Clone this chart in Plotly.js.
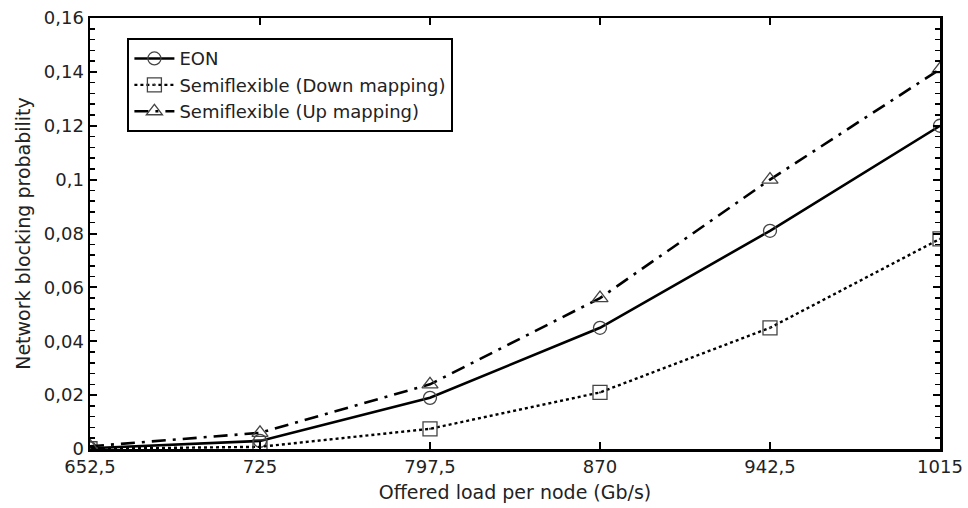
<!DOCTYPE html>
<html>
<head>
<meta charset="utf-8">
<script src="https://cdn.plot.ly/plotly-3.0.1.min.js"></script>
<style>html,body{margin:0;padding:0;background:#fff;}#chart{width:968px;height:508px;}</style>
</head>
<body>
<div id="chart"></div>
<script>
const loads = [652.5, 725, 797.5, 870, 942.5, 1015];
const loadLabels = ["652,5", "725", "797,5", "870", "942,5", "1015"];
const eon = [0.0003, 0.003, 0.019, 0.045, 0.081, 0.120];
const semiDown = [0.0001, 0.0008, 0.0075, 0.021, 0.045, 0.078];
const semiUp = [0.001, 0.006, 0.024, 0.056, 0.100, 0.141];
const yTickVals = [0, 0.02, 0.04, 0.06, 0.08, 0.1, 0.12, 0.14, 0.16];
const yTickLabels = ["0", "0,02", "0,04", "0,06", "0,08", "0,1", "0,12", "0,14", "0,16"];
const seriesNames = ["EON", "Semiflexible (Down mapping)", "Semiflexible (Up mapping)"];

const font = "DejaVu Sans, Verdana, sans-serif";
const traces = [
  {x: loads, y: eon, name: seriesNames[0], mode: "lines+markers",
   line: {color: "#000", width: 2.6, dash: "solid"},
   marker: {symbol: "circle-open", size: 13, color: "#444", line: {width: 1.3, color: "#444"}}},
  {x: loads, y: semiDown, name: seriesNames[1], mode: "lines+markers",
   line: {color: "#000", width: 2.4, dash: "dot"},
   marker: {symbol: "square-open-dot", size: 14, color: "#444", line: {width: 1.3, color: "#444"}}},
  {x: loads, y: semiUp, name: seriesNames[2], mode: "lines+markers",
   line: {color: "#000", width: 2.6, dash: "14px,7px,3px,7px"},
   marker: {symbol: "triangle-up-open", size: 14, color: "#444", line: {width: 1.3, color: "#444"}}}
];

const layout = {
  width: 968, height: 508,
  margin: {l: 90, r: 28, t: 18, b: 59},
  paper_bgcolor: "#fff", plot_bgcolor: "#fff",
  font: {family: font, size: 18, color: "#222"},
  showlegend: true,
  legend: {x: 0.044, y: 0.953, xanchor: "left", yanchor: "top",
           bgcolor: "#fff", bordercolor: "#000", borderwidth: 2,
           font: {family: font, size: 18, color: "#222"},
           tracegroupgap: 0, itemwidth: 40},
  xaxis: {
    range: [652.5, 1015], tickvals: loads, ticktext: loadLabels,
    showgrid: false, zeroline: false, showline: true, mirror: "ticks",
    linecolor: "#000", linewidth: 2.5, ticks: "inside", ticklen: 7, tickwidth: 2, tickcolor: "#000",
    tickfont: {family: font, size: 18, color: "#222"},
    title: {text: "Offered load per node (Gb/s)", font: {family: font, size: 19, color: "#222"}, standoff: 10}
  },
  yaxis: {
    range: [0, 0.16], tickvals: yTickVals, ticktext: yTickLabels,
    showgrid: false, zeroline: false, showline: true, mirror: "ticks",
    linecolor: "#000", linewidth: 2.5, ticks: "inside", ticklen: 7, tickwidth: 2, tickcolor: "#000",
    minor: {dtick: 0.004, ticks: "inside", ticklen: 5, tickwidth: 1.5, tickcolor: "#000", showgrid: false},
    tickfont: {family: font, size: 18, color: "#222"},
    title: {text: "Network blocking probability", font: {family: font, size: 19, color: "#222"}, standoff: 8}
  }
};

Plotly.newPlot("chart", traces, layout, {displayModeBar: false, staticPlot: true});
</script>
</body>
</html>
